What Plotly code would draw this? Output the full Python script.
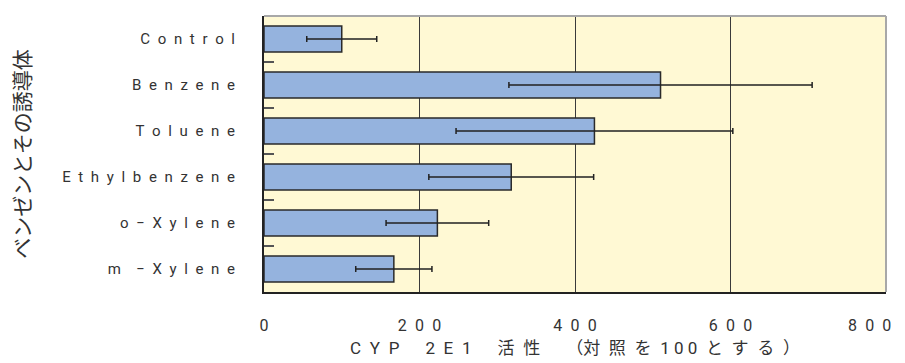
import plotly.graph_objects as go

categories = ["Control", "Benzene", "Toluene", "Ethylbenzene", "o-Xylene", "m-Xylene"]
category_labels = ["C o n t r o l", "B e n z e n e", "T o l u e n e",
                   "E t h y l b e n z e n e", "o − X y l e n e", "m  − X y l e n e"]
activity = [100, 510, 425, 318, 223, 167]
activity_sd = [45, 195, 178, 106, 66, 49]
x_ticks = [0, 200, 400, 600, 800]
x_tick_labels = ["0", "2 0 0", "4 0 0", "6 0 0", "8 0 0    "]

FONT = "Roboto, Noto Sans CJK JP"
SP = "\u2002"  # en space, gives the wide letter spacing of the original


def spaced(s):
    return s.replace(" ", SP)


fig = go.Figure(
    go.Bar(
        y=categories,
        x=activity,
        orientation="h",
        width=0.57,
        marker=dict(color="#95B3DE", line=dict(color="#2a2a2a", width=1.5)),
        error_x=dict(type="data", array=activity_sd, color="#222222",
                     thickness=1.5, width=3),
    )
)

# the page body keeps its default 8px margin, so margins are offset by 8px
fig.update_layout(
    width=905,
    height=363,
    margin=dict(l=256, r=27, t=8, b=79),
    paper_bgcolor="white",
    plot_bgcolor="#FFF9D4",
    showlegend=False,
    font=dict(family=FONT, color="#333333"),
    shapes=[
        dict(type="line", xref="x domain", yref="y domain", x0=0, x1=1, y0=1, y1=1,
             line=dict(color="#a8a8a8", width=2), layer="above"),
        dict(type="line", xref="x domain", yref="y domain", x0=1, x1=1, y0=0, y1=1,
             line=dict(color="#a8a8a8", width=2), layer="above"),
    ],
)

fig.update_xaxes(
    range=[0, 800],
    tickvals=x_ticks,
    ticktext=[spaced(t) for t in x_tick_labels],
    ticklabeloverflow="allow",
    automargin=False,
    showgrid=True,
    gridcolor="#3a3a3a",
    gridwidth=1,
    zeroline=False,
    showline=True,
    linecolor="#222222",
    linewidth=2,
    ticks="",
    ticklabelstandoff=18,
    tickfont=dict(size=16, color="#333333"),
    title=dict(text=spaced("C Y P   2 E 1   活 性   （対 照 を ") + "1 0 0" + spaced(" と す る ）"),
               font=dict(size=17, color="#333333"), standoff=8),
)

fig.update_yaxes(
    categoryorder="array",
    categoryarray=categories,
    autorange="reversed",
    tickvals=categories,
    ticktext=[spaced(t) for t in category_labels],
    automargin=False,
    tickson="boundaries",
    ticks="inside",
    ticklen=10,
    tickcolor="#555555",
    tickwidth=1.5,
    showgrid=False,
    showline=True,
    linecolor="#222222",
    linewidth=2,
    ticklabelstandoff=24,
    tickfont=dict(size=15, color="#333333"),
    title=dict(text="ベンゼンとその誘導体", font=dict(size=21, color="#333333"), standoff=26),
)

fig.write_html("out.html")
